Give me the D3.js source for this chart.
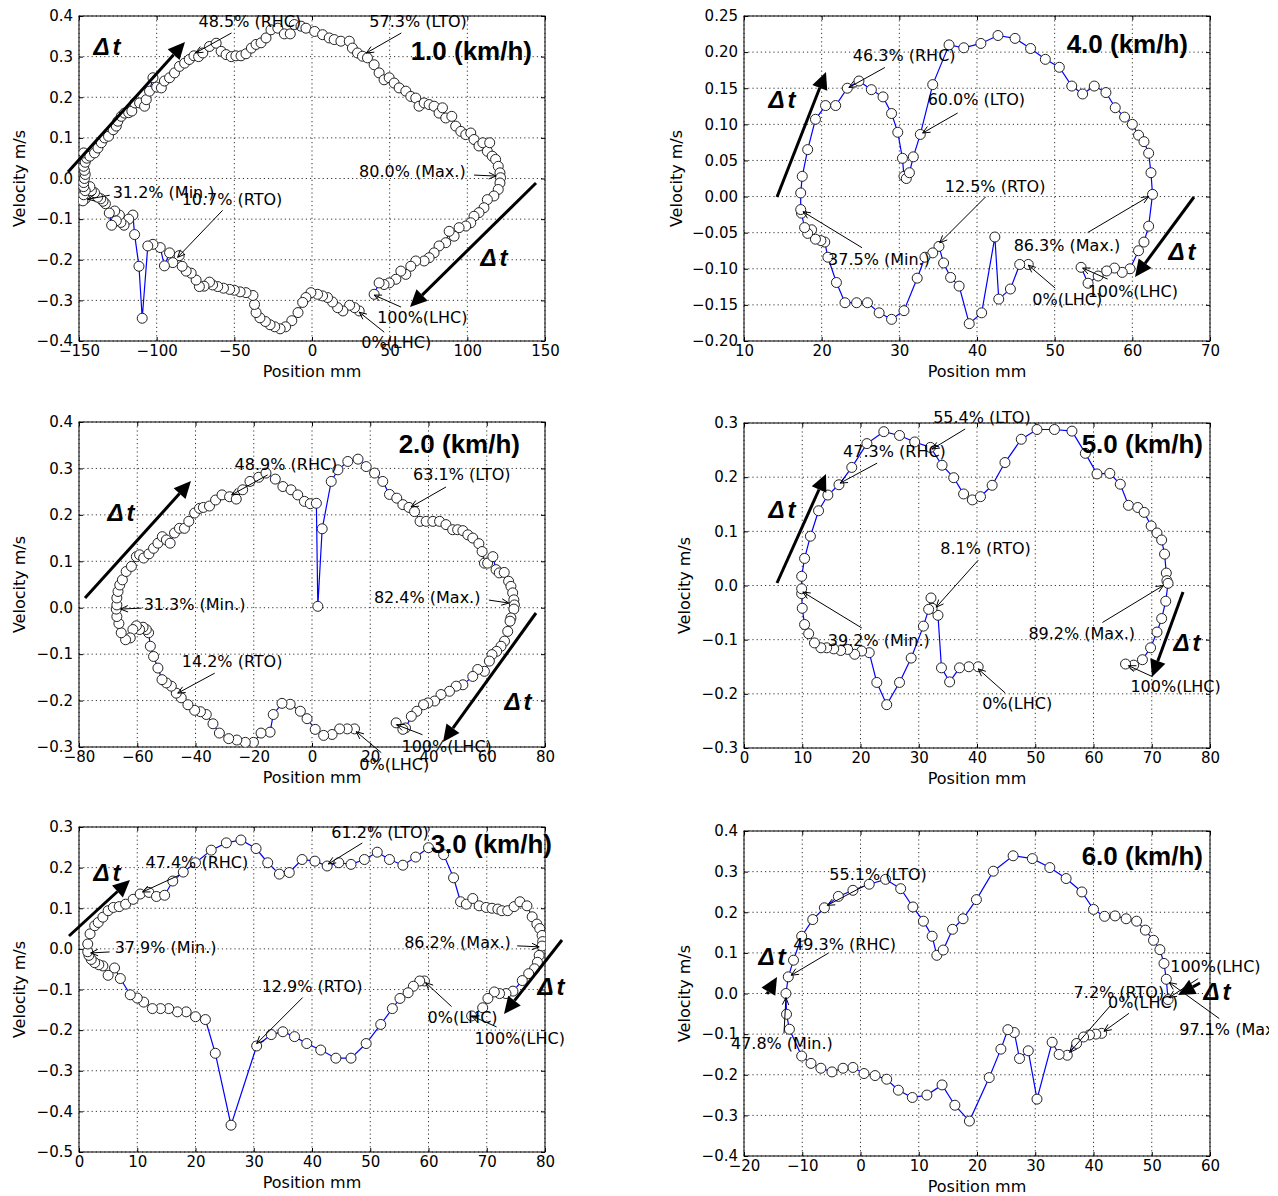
<!DOCTYPE html>
<html lang="en">
<head>
<meta charset="UTF-8">
<title>Phase plots</title>
<script src="https://d3js.org/d3.v7.min.js"></script>
<style>
  body { margin: 0; background: #fff; }
  svg text { font-family: "DejaVu Sans", sans-serif; fill: #000; }
  .tick text { font-size: 15px; }
  .tick line { stroke: #000; }
  .grid line { stroke: #000; stroke-width: 0.8; stroke-dasharray: 1.2 3; }
  .note { font-size: 16px; }
  .lab { font-size: 16px; }
  .big { font-family: "Liberation Sans", Arial, sans-serif; font-weight: bold; }
</style>
</head>
<body>
<script>

// ---- data: [position mm, velocity m/s], in time order from 0% LHC ----
var speed10 = [[30.4,-0.326],[27.4,-0.318],[24.2,-0.312],[19.9,-0.326],[16.5,-0.318],[13.2,-0.304],[10,-0.293],[6.8,-0.289],[3.6,-0.285],[-0.7,-0.281],[-3.9,-0.293],[-6,-0.305],[-9,-0.33],[-13,-0.35],[-17,-0.365],[-20.5,-0.37],[-24,-0.365],[-27,-0.36],[-30,-0.352],[-33.5,-0.343],[-36,-0.33],[-37,-0.31],[-38,-0.288],[-42.5,-0.281],[-46.3,-0.279],[-50,-0.275],[-53,-0.273],[-57,-0.27],[-60.7,-0.266],[-64,-0.262],[-66,-0.255],[-69.5,-0.265],[-72.5,-0.266],[-74.6,-0.25],[-77.8,-0.233],[-81,-0.228],[-83.6,-0.216],[-85.5,-0.19],[-89.6,-0.207],[-91.7,-0.183],[-95,-0.215],[-97.7,-0.17],[-102.4,-0.162],[-105.7,-0.166],[-109.3,-0.344],[-111.4,-0.216],[-114.2,-0.138],[-115.3,-0.09],[-118,-0.1],[-121,-0.115],[-123,-0.108],[-124,-0.09],[-126,-0.104],[-127,-0.08],[-129,-0.115],[-130.5,-0.085],[-133,-0.062],[-134.5,-0.056],[-136,-0.05],[-138,-0.046],[-140,-0.035],[-142,-0.03],[-143,-0.02],[-146,-0.05],[-147.5,-0.055],[-147,-0.04],[-146,-0.03],[-147,-0.02],[-147,-0.01],[-146.5,0.0],[-146,0.01],[-146.5,0.02],[-147,0.03],[-146,0.04],[-145,0.05],[-147,0.063],[-143,0.055],[-140,0.063],[-137.8,0.075],[-135.6,0.088],[-133.5,0.1],[-131,0.104],[-128,0.12],[-126,0.129],[-125,0.141],[-122.8,0.153],[-120.7,0.161],[-118,0.162],[-116,0.166],[-114,0.186],[-111,0.186],[-107.8,0.178],[-106.7,0.194],[-104.6,0.215],[-102.4,0.248],[-100,0.225],[-97,0.223],[-95,0.24],[-91.7,0.248],[-88.5,0.26],[-85.3,0.276],[-82,0.284],[-79,0.293],[-76,0.302],[-73,0.3],[-70.3,0.309],[-66,0.325],[-61.7,0.333],[-58.5,0.313],[-55.3,0.305],[-52,0.3],[-49,0.302],[-45.7,0.302],[-42.5,0.307],[-39,0.321],[-36,0.33],[-32.8,0.334],[-29.6,0.346],[-26.4,0.366],[-22,0.37],[-17.8,0.356],[-14,0.356],[-11.4,0.379],[-7.1,0.375],[-3.9,0.37],[1.7,0.362],[6.8,0.354],[11.1,0.346],[14.3,0.342],[18.6,0.338],[24,0.338],[26,0.321],[29.3,0.309],[32.5,0.301],[35.7,0.297],[40,0.28],[43.2,0.26],[46.4,0.243],[49.7,0.248],[52.9,0.235],[56.1,0.223],[60.4,0.215],[63.6,0.202],[66.8,0.198],[68.9,0.178],[72.2,0.186],[75.4,0.182],[78.6,0.178],[81.8,0.161],[84,0.174],[86.1,0.149],[90,0.153],[92.5,0.129],[95.8,0.116],[99,0.108],[102.2,0.112],[104.3,0.096],[107.5,0.08],[110,0.088],[112.9,0.067],[114.4,0.088],[116,0.055],[118.2,0.047],[119.9,0.03],[121,0.014],[121.4,0.002],[121,-0.011],[119.9,-0.027],[117.1,-0.043],[112.9,-0.052],[110.7,-0.072],[107.5,-0.084],[104.3,-0.093],[102.2,-0.109],[99,-0.117],[94.7,-0.121],[91.5,-0.142],[88.3,-0.13],[86.1,-0.158],[81.8,-0.166],[78.6,-0.183],[75.4,-0.195],[72.2,-0.203],[66.8,-0.203],[63.6,-0.216],[60.4,-0.236],[57.2,-0.228],[54,-0.248],[49.7,-0.257],[46.4,-0.261],[43.2,-0.257],[40,-0.285]];

var speed40 = [[46.6,-0.094],[45.5,-0.094],[44.3,-0.128],[42.8,-0.142],[42.3,-0.056],[40.6,-0.161],[39,-0.176],[37.7,-0.124],[36.6,-0.112],[35.7,-0.092],[35.1,-0.069],[34.3,-0.078],[33.3,-0.084],[32.3,-0.113],[30.6,-0.158],[29,-0.17],[27.4,-0.161],[25.9,-0.147],[24.5,-0.147],[23,-0.147],[21.9,-0.119],[20.8,-0.084],[20.4,-0.063],[19.9,-0.061],[19.2,-0.059],[18.7,-0.046],[18.2,-0.051],[17.8,-0.043],[17.4,-0.023],[17.3,-0.018],[17.3,0.005],[17.5,0.028],[18.2,0.065],[19.2,0.107],[20.5,0.126],[21.8,0.126],[23.3,0.15],[24.8,0.16],[26.4,0.148],[27.9,0.138],[29,0.115],[29.8,0.089],[30.4,0.053],[30.6,0.028],[30.9,0.025],[31.3,0.033],[31.8,0.055],[32.7,0.086],[34.3,0.155],[36.4,0.21],[38.3,0.206],[40.5,0.212],[42.7,0.223],[44.9,0.219],[46.9,0.205],[48.8,0.19],[50.6,0.179],[52.2,0.153],[53.6,0.142],[55.1,0.153],[56.6,0.144],[57.8,0.123],[59,0.11],[60,0.1],[60.8,0.085],[61.5,0.076],[62.1,0.06],[62.4,0.033],[62.6,0.003],[62.1,-0.041],[61.5,-0.063],[60.8,-0.075],[59.7,-0.1],[58.7,-0.105],[57.7,-0.099],[56.7,-0.103],[55.6,-0.11],[54.3,-0.12],[53.4,-0.098]];

var speed20 = [[14.6,-0.261],[12.1,-0.261],[9.5,-0.261],[6.9,-0.273],[4,-0.275],[1.1,-0.262],[-1.7,-0.239],[-4,-0.223],[-7.5,-0.208],[-10.3,-0.206],[-13.3,-0.23],[-14.4,-0.268],[-17.5,-0.27],[-20.1,-0.29],[-22.9,-0.29],[-25.8,-0.285],[-28.6,-0.282],[-31.8,-0.27],[-34,-0.25],[-36.3,-0.23],[-38.3,-0.224],[-40.3,-0.221],[-42.6,-0.209],[-44.9,-0.194],[-46.6,-0.184],[-48.3,-0.169],[-50,-0.162],[-51.5,-0.155],[-52.9,-0.13],[-54.4,-0.105],[-55.5,-0.083],[-56.1,-0.054],[-56.9,-0.047],[-58,-0.042],[-59.2,-0.047],[-60.3,-0.039],[-61.5,-0.047],[-62.4,-0.065],[-64,-0.069],[-65.5,-0.054],[-66.3,-0.034],[-67,-0.019],[-67.2,-0.003],[-67,0.006],[-67,0.021],[-66.6,0.035],[-66,0.049],[-65.1,0.06],[-63.8,0.078],[-62,0.089],[-60.3,0.11],[-59.2,0.114],[-57.8,0.107],[-56,0.116],[-54.4,0.128],[-52.9,0.139],[-51.4,0.153],[-50,0.146],[-48.7,0.139],[-47.2,0.161],[-45.5,0.171],[-43.8,0.171],[-42.3,0.186],[-40.3,0.204],[-38.6,0.214],[-37.3,0.216],[-35.2,0.219],[-33.1,0.232],[-30.9,0.243],[-28.3,0.239],[-26,0.234],[-23.8,0.254],[-21.3,0.272],[-18.3,0.281],[-15.8,0.29],[-12.6,0.277],[-10,0.261],[-7.2,0.254],[-4.9,0.243],[-2.6,0.229],[-0.6,0.224],[1.5,0.225],[2,0.003],[3.5,0.17],[6.6,0.272],[8.9,0.297],[12.3,0.315],[15.8,0.32],[18.6,0.304],[21.5,0.29],[24.3,0.272],[26.6,0.244],[29.1,0.236],[31.2,0.222],[33.3,0.216],[35.2,0.207],[37.1,0.186],[39.2,0.186],[41.5,0.186],[43.8,0.186],[46,0.179],[48.3,0.168],[50,0.168],[51.8,0.166],[53.5,0.157],[55.2,0.15],[57.3,0.138],[58.4,0.121],[59.2,0.096],[60.3,0.096],[62.1,0.11],[63.2,0.082],[64.3,0.075],[66,0.076],[67.5,0.057],[68.3,0.046],[68.9,0.032],[69.3,0.017],[69.5,0.006],[69.3,-0.003],[68.3,-0.022],[68,-0.029],[67.2,-0.051],[66.1,-0.072],[64.9,-0.083],[63.4,-0.094],[61.8,-0.101],[60.9,-0.115],[59.2,-0.137],[56.9,-0.133],[55.2,-0.148],[51.8,-0.166],[49.5,-0.169],[47.2,-0.18],[44.3,-0.187],[42.1,-0.201],[39.8,-0.205],[38.3,-0.209],[36,-0.223],[34.1,-0.234],[32.1,-0.259],[31.2,-0.262],[28.9,-0.248]];

var speed50 = [[40.2,-0.15],[38.6,-0.15],[37,-0.152],[35.3,-0.178],[33.9,-0.152],[33.3,-0.055],[32.3,-0.042],[32.1,-0.023],[31.7,-0.044],[30.8,-0.075],[28.7,-0.134],[26.7,-0.179],[24.5,-0.22],[22.8,-0.179],[21.5,-0.124],[20.2,-0.121],[19,-0.127],[17.8,-0.118],[16.6,-0.12],[15.4,-0.117],[14.2,-0.115],[13.2,-0.115],[12.1,-0.106],[11.1,-0.089],[10.4,-0.072],[10,-0.042],[9.9,-0.015],[9.9,-0.006],[9.9,0.017],[10.4,0.05],[11.4,0.091],[12.8,0.138],[14.4,0.167],[16.3,0.186],[18.5,0.218],[21.1,0.262],[24,0.284],[26.7,0.277],[29.3,0.265],[32,0.255],[34,0.222],[36,0.199],[37.7,0.169],[39.2,0.158],[40.6,0.164],[42.6,0.185],[44.8,0.227],[47.6,0.27],[50.3,0.288],[53.3,0.288],[56.3,0.285],[58.6,0.244],[60.6,0.206],[62.8,0.207],[64.6,0.187],[66,0.148],[67.6,0.144],[68.7,0.135],[69.9,0.11],[70.9,0.097],[71.7,0.084],[72.2,0.058],[72.5,0.023],[72.6,0.009],[72.8,0.004],[72.4,-0.029],[71.7,-0.061],[70.9,-0.086],[69.8,-0.115],[68.4,-0.137],[66.9,-0.147],[65.5,-0.145]];

var speed30 = [[59.3,-0.079],[58.5,-0.079],[57.4,-0.092],[56.5,-0.108],[55.1,-0.122],[53.8,-0.147],[51.8,-0.186],[49.3,-0.233],[46.7,-0.269],[44.1,-0.269],[41.5,-0.249],[39.1,-0.233],[37,-0.216],[35,-0.204],[33,-0.211],[30.5,-0.239],[26.1,-0.434],[23.4,-0.257],[21.7,-0.174],[20,-0.167],[18.4,-0.155],[16.9,-0.155],[15.4,-0.147],[14,-0.147],[12.6,-0.147],[11.1,-0.131],[10,-0.121],[8.8,-0.113],[7.1,-0.073],[6.1,-0.047],[5,-0.065],[4.1,-0.042],[3.4,-0.039],[2.7,-0.034],[2.1,-0.026],[1.7,-0.016],[1.5,-0.007],[1.5,0.012],[1.9,0.037],[2.7,0.057],[3.3,0.065],[4.1,0.078],[5,0.094],[5.9,0.102],[6.9,0.104],[8,0.11],[9.3,0.122],[10.5,0.135],[12,0.139],[13.3,0.129],[14.7,0.132],[16.1,0.167],[17.9,0.189],[20,0.212],[22.7,0.243],[25.3,0.261],[27.8,0.268],[30.4,0.247],[32.4,0.212],[34.4,0.184],[36.1,0.188],[38.3,0.22],[40.5,0.216],[42.6,0.204],[44.6,0.212],[46.7,0.208],[49,0.22],[51.2,0.238],[53.3,0.22],[55.6,0.206],[57.8,0.226],[60,0.249],[62.6,0.232],[64.3,0.175],[65.5,0.116],[66.5,0.11],[67.6,0.124],[68.7,0.106],[69.9,0.102],[70.9,0.1],[71.9,0.098],[72.6,0.094],[73.6,0.094],[74.7,0.104],[75.7,0.116],[76.9,0.106],[77.8,0.079],[78.6,0.061],[79.1,0.05],[79.5,0.033],[79.6,0.018],[79.5,0.007],[79,-0.016],[78.7,-0.033],[78.2,-0.049],[77.2,-0.061],[76.1,-0.078],[74.5,-0.104],[73.3,-0.11],[72.2,-0.11],[71.3,-0.106],[70.2,-0.122],[69.3,-0.145],[67.4,-0.165]];

var speed60 = [[41.4,-0.098],[40.4,-0.1],[39.3,-0.102],[38.3,-0.107],[37.1,-0.123],[35.5,-0.152],[34.1,-0.15],[32.9,-0.12],[30.3,-0.26],[28.8,-0.141],[27.3,-0.16],[26.4,-0.096],[25.3,-0.089],[24.1,-0.137],[22.1,-0.207],[18.7,-0.314],[16.2,-0.275],[14,-0.225],[11.4,-0.25],[8.9,-0.256],[6.5,-0.238],[4.5,-0.211],[2.5,-0.202],[0.6,-0.197],[-1.3,-0.182],[-3,-0.184],[-4.9,-0.193],[-6.8,-0.184],[-8.5,-0.172],[-10.1,-0.154],[-12.2,-0.088],[-12.7,-0.051],[-12.8,0],[-12.4,0.041],[-11.5,0.082],[-10.1,0.141],[-8.2,0.182],[-6.2,0.211],[-3.8,0.239],[-1.3,0.254],[1.5,0.269],[4.3,0.281],[6.9,0.258],[9,0.213],[10.8,0.178],[12.3,0.141],[13.1,0.094],[14.2,0.107],[15.8,0.158],[17.6,0.184],[19.9,0.231],[22.8,0.301],[26.2,0.339],[29.5,0.332],[32.5,0.31],[35.3,0.283],[38,0.25],[40,0.207],[41.9,0.19],[43.7,0.191],[45.6,0.184],[47.4,0.178],[48.9,0.156],[50.3,0.131],[51.4,0.108],[52.1,0.074],[52.5,0.035],[52.8,-0.015]];

// tick values
var xTicks10 = [-150, -100, -50, 0, 50, 100, 150];
var yTicks10 = [-0.4, -0.3, -0.2, -0.1, 0, 0.1, 0.2, 0.3, 0.4];
var xTicks40 = [10, 20, 30, 40, 50, 60, 70];
var yTicks40 = [-0.2, -0.15, -0.1, -0.05, 0, 0.05, 0.1, 0.15, 0.2, 0.25];
var xTicks20 = [-80, -60, -40, -20, 0, 20, 40, 60, 80];
var yTicks20 = [-0.3, -0.2, -0.1, 0, 0.1, 0.2, 0.3, 0.4];
var xTicks50 = [0, 10, 20, 30, 40, 50, 60, 70, 80];
var yTicks50 = [-0.3, -0.2, -0.1, 0, 0.1, 0.2, 0.3];
var xTicks30 = [0, 10, 20, 30, 40, 50, 60, 70, 80];
var yTicks30 = [-0.5, -0.4, -0.3, -0.2, -0.1, 0, 0.1, 0.2, 0.3];
var xTicks60 = [-20, -10, 0, 10, 20, 30, 40, 50, 60];
var yTicks60 = [-0.4, -0.3, -0.2, -0.1, 0, 0.1, 0.2, 0.3, 0.4];

// gait event labels and the data point each one points at
var events10 = [["48.5% (RHC)", -75, 0.309], ["57.3% (LTO)", 35, 0.309], ["80.0% (Max.)", 118.5, 0.006], ["31.2% (Min.)", -144.4, -0.051], ["10.7% (RTO)", -86.5, -0.194], ["100%(LHC)", 40, -0.287], ["0%(LHC)", 30.4, -0.329]];
var events40 = [["46.3% (RHC)", 23.5, 0.151], ["60.0% (LTO)", 33, 0.088], ["12.5% (RTO)", 35.2, -0.064], ["37.5% (Min.)", 17.6, -0.021], ["86.3% (Max.)", 62.1, 0], ["0%(LHC)", 46.6, -0.095], ["100%(LHC)", 53.6, -0.099]];
var events20 = [["48.9% (RHC)", -27.6, 0.243], ["63.1% (LTO)", 34, 0.217], ["82.4% (Max.)", 67.6, 0.01], ["31.3% (Min.)", -65.7, -0.003], ["14.2% (RTO)", -46.1, -0.184], ["100%(LHC)", 29, -0.252], ["0%(LHC)", 15.2, -0.267]];
var events50 = [["55.4% (LTO)", 32.3, 0.252], ["47.3% (RHC)", 16.5, 0.189], ["8.1% (RTO)", 33, -0.04], ["39.2% (Min.)", 10.1, -0.012], ["89.2% (Max.)", 72, 0], ["0%(LHC)", 40.2, -0.154], ["100%(LHC)", 66, -0.148]];
var events30 = [["47.4% (RHC)", 10.9, 0.14], ["61.2% (LTO)", 42.8, 0.209], ["86.2% (Max.)", 79, 0.005], ["37.9% (Min.)", 2, -0.01], ["12.9% (RTO)", 30.5, -0.233], ["0%(LHC)", 59.5, -0.083], ["100%(LHC)", 67.4, -0.165]];
var events60 = [["55.1% (LTO)", -5.7, 0.217], ["49.3% (RHC)", -11.9, 0.045], ["47.8% (Min.)", -12.8, -0.01], ["7.2% (RTO)", 35.9, -0.145], ["0%(LHC)", 41.8, -0.093], ["100%(LHC)", 53, -0.01], ["97.1% (Max.)", 53, 0.027]];

// ---- layout ----
var W = 466, H = 325;

// per event: arrow tail offset [dx,dy] and text offset [dx,dy] from the tip, px
var place10 = [[36,-20,3,-26],[35,-20,3,-26],[-22,-1,-137,1],[22,-4,25,-1],[45,-47,4,-52],[27,12,3,28],[25,20,2,36]];
var place40 = [[36,-20,4,-27],[35,-20,5,-28],[46,-46,5,-51],[59,36,25,53],[-61,36,-135,54],[27,23,4,40],[25,11,5,29]];
var place20 = [[36,-20,3,-25],[35,-20,2,-27],[-20,-3,-135,0],[21,-1,23,1],[37,-20,4,-26],[26,10,5,27],[25,21,3,38]];
var place50 = [[33,-20,1,-26],[37,-20,3,-26],[42,-47,4,-53],[59,36,25,54],[-61,37,-135,53],[27,24,4,40],[24,11,2,26]];
var place30 = [[37,-17,3,-24],[34,-21,3,-26],[-22,-1,-135,1],[19,-1,24,0],[46,-46,5,-52],[26,24,2,40],[25,11,3,28]];
var place60 = [[36,-19,2,-25],[37,-22,2,-25],[-2,36,-55,51],[41,-47,4,-54],[25,-18,4,-23],[29,-19,1,-26],[50,36,10,52]];

// delta-t arrows: x1,y1 -> x2,y2 and text centre, px inside the panel
var dt10 = [[-11,156,106,26,28,31],[457,167,331,291,415,242]];
var dt40 = [[33,181,82,56,38,84],[450,181,391,261,438,236]];
var dt20 = [[6,176,112,59,42,91],[457,191,364,320,439,280]];
var dt50 = [[33,160,82,51,38,87],[439,169,408,254,443,220]];
var dt30 = [[-10,109,51,53,28,46],[483,113,425,187,472,160]];
var dt60 = [[23,163,33,146,28,126],[456,152,434,164,473,161]];

var panels = [
    {title: "1.0 (km/h)", left: 79, top: 16, tx: 453, ty: 44, yl: 54, fmt: ".1f", pts: speed10, xt: xTicks10, yt: yTicks10, ev: events10, pl: place10, dt: dt10},
    {title: "4.0 (km/h)", left: 744, top: 16, tx: 444, ty: 37, yl: 62, fmt: ".2f", pts: speed40, xt: xTicks40, yt: yTicks40, ev: events40, pl: place40, dt: dt40},
    {title: "2.0 (km/h)", left: 79, top: 422, tx: 441, ty: 31, yl: 54, fmt: ".1f", pts: speed20, xt: xTicks20, yt: yTicks20, ev: events20, pl: place20, dt: dt20},
    {title: "5.0 (km/h)", left: 744, top: 423, tx: 459, ty: 30, yl: 54, fmt: ".1f", pts: speed50, xt: xTicks50, yt: yTicks50, ev: events50, pl: place50, dt: dt50},
    {title: "3.0 (km/h)", left: 79, top: 827, tx: 473, ty: 26, yl: 54, fmt: ".1f", pts: speed30, xt: xTicks30, yt: yTicks30, ev: events30, pl: place30, dt: dt30},
    {title: "6.0 (km/h)", left: 744, top: 831, tx: 459, ty: 34, yl: 54, fmt: ".1f", pts: speed60, xt: xTicks60, yt: yTicks60, ev: events60, pl: place60, dt: dt60}
];

var svg = d3.select("body").append("svg")
    .attr("width", 1269)
    .attr("height", 1196);

panels.forEach(function (p, i) {
    var g = svg.append("g").attr("transform", "translate(" + p.left + "," + p.top + ")");
    var x = d3.scaleLinear().domain(d3.extent(p.xt)).range([0, W]);
    var y = d3.scaleLinear().domain(d3.extent(p.yt)).range([H, 0]);

    g.append("clipPath").attr("id", "clip" + i)
        .append("rect").attr("width", W).attr("height", H);

    // dotted grid
    var grid = g.append("g").attr("class", "grid");
    grid.selectAll(".gx").data(p.xt).enter().append("line")
        .attr("x1", function (d) { return x(d); }).attr("x2", function (d) { return x(d); })
        .attr("y1", 0).attr("y2", H);
    grid.selectAll(".gy").data(p.yt).enter().append("line")
        .attr("y1", function (d) { return y(d); }).attr("y2", function (d) { return y(d); })
        .attr("x1", 0).attr("x2", W);

    // axes, ticks pointing inwards
    g.append("g").attr("transform", "translate(0," + H + ")")
        .call(d3.axisBottom(x).tickValues(p.xt).tickFormat(d3.format("d")).tickSize(-4).tickPadding(4))
        .call(function (a) { a.select(".domain").remove(); });
    g.append("g")
        .call(d3.axisLeft(y).tickValues(p.yt).tickFormat(d3.format(p.fmt)).tickSize(-4).tickPadding(6))
        .call(function (a) { a.select(".domain").remove(); });
    g.append("g")
        .call(d3.axisTop(x).tickValues(p.xt).tickFormat("").tickSize(-4))
        .call(function (a) { a.select(".domain").remove(); });
    g.append("g").attr("transform", "translate(" + W + ",0)")
        .call(d3.axisRight(y).tickValues(p.yt).tickFormat("").tickSize(-4))
        .call(function (a) { a.select(".domain").remove(); });
    g.selectAll(".tick text").attr("fill", "#000");

    g.append("rect").attr("width", W).attr("height", H)
        .attr("fill", "none").attr("stroke", "#000").attr("stroke-width", 1);

    // trajectory
    var plot = g.append("g").attr("clip-path", "url(#clip" + i + ")");
    var line = d3.line()
        .x(function (d) { return x(d[0]); })
        .y(function (d) { return y(d[1]); });
    plot.append("path").datum(p.pts)
        .attr("d", line)
        .attr("fill", "none")
        .attr("stroke", "#0000ff")
        .attr("stroke-width", 1.2);
    plot.selectAll("circle").data(p.pts).enter().append("circle")
        .attr("cx", function (d) { return x(d[0]); })
        .attr("cy", function (d) { return y(d[1]); })
        .attr("r", 5)
        .attr("fill", "#fff")
        .attr("stroke", "#222")
        .attr("stroke-width", 1);

    // axis labels
    g.append("text").attr("class", "lab")
        .attr("x", W / 2).attr("y", H + 36)
        .attr("text-anchor", "middle")
        .text("Position mm");
    g.append("text").attr("class", "lab")
        .attr("transform", "translate(" + (-p.yl) + "," + (H / 2) + ") rotate(-90)")
        .attr("text-anchor", "middle")
        .text("Velocity m/s");

    // gait event annotations
    p.ev.forEach(function (e, k) {
        var o = p.pl[k];
        var tx = x(e[1]), ty = y(e[2]);
        var sx = tx + o[0], sy = ty + o[1];
        var ang = Math.atan2(ty - sy, tx - sx);
        var L = 8, a = 0.42;
        g.append("line")
            .attr("x1", sx).attr("y1", sy).attr("x2", tx).attr("y2", ty)
            .attr("stroke", "#000").attr("stroke-width", 1);
        g.append("path")
            .attr("d", "M" + (tx - L * Math.cos(ang - a)) + "," + (ty - L * Math.sin(ang - a)) +
                "L" + tx + "," + ty +
                "L" + (tx - L * Math.cos(ang + a)) + "," + (ty - L * Math.sin(ang + a)))
            .attr("fill", "none").attr("stroke", "#000").attr("stroke-width", 1);
        g.append("text").attr("class", "note")
            .attr("x", tx + o[2]).attr("y", ty + o[3])
            .text(e[0]);
    });

    // delta-t arrows
    p.dt.forEach(function (d) {
        var ang = Math.atan2(d[3] - d[1], d[2] - d[0]);
        var L = 17, hw = 8;
        var bx = d[2] - L * Math.cos(ang), by = d[3] - L * Math.sin(ang);
        g.append("line")
            .attr("x1", d[0]).attr("y1", d[1]).attr("x2", bx).attr("y2", by)
            .attr("stroke", "#000").attr("stroke-width", 3);
        g.append("path")
            .attr("d", "M" + d[2] + "," + d[3] +
                "L" + (bx + hw * Math.sin(ang)) + "," + (by - hw * Math.cos(ang)) +
                "L" + (bx - hw * Math.sin(ang)) + "," + (by + hw * Math.cos(ang)) + "Z")
            .attr("fill", "#000");
        var t = g.append("text").attr("class", "big")
            .attr("x", d[4]).attr("y", d[5] + 8)
            .attr("text-anchor", "middle")
            .attr("font-size", 24)
            .attr("font-style", "italic");
        t.append("tspan").text("\u0394");
        t.append("tspan").attr("dx", 3).text("t");
    });

    // speed title
    g.append("text").attr("class", "big")
        .attr("x", p.tx).attr("y", p.ty)
        .attr("text-anchor", "end")
        .attr("font-size", 26)
        .text(p.title);
});

</script>
</body>
</html>
